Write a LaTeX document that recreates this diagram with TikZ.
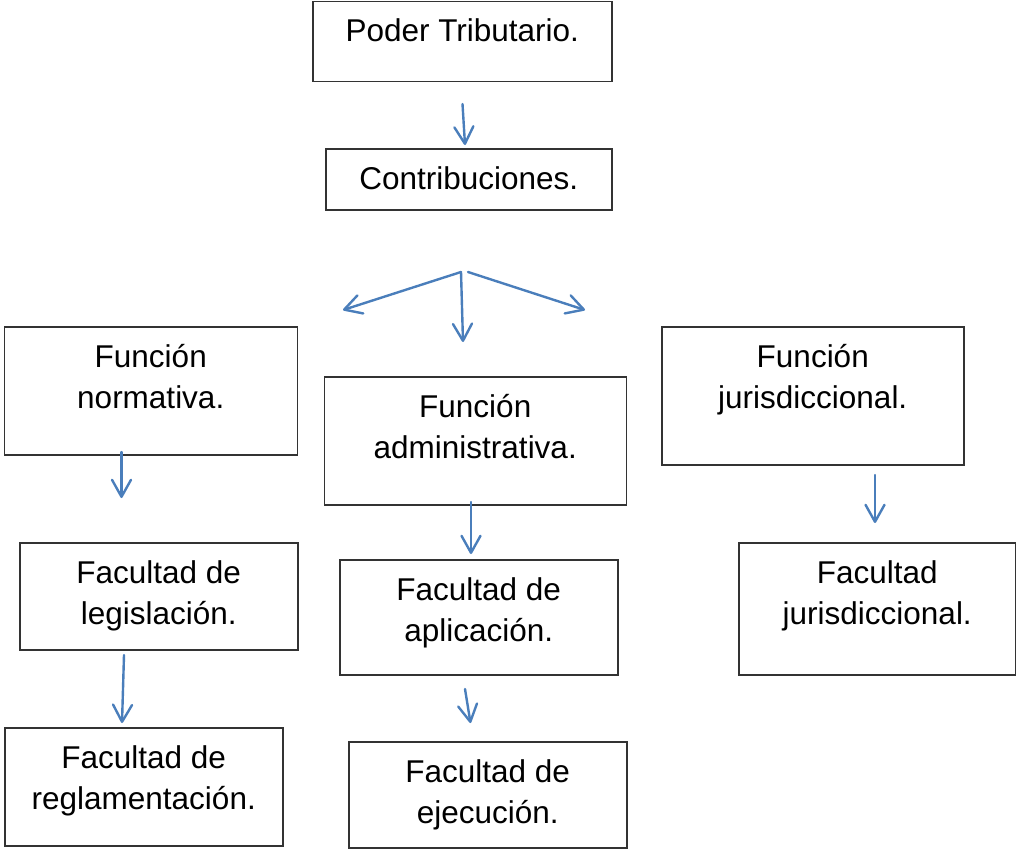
\documentclass[tikz,border=0pt]{standalone}
\usepackage{fontspec}
\setmainfont{Liberation Sans}
\usetikzlibrary{arrows.meta}
\definecolor{azul}{RGB}{74,126,187}
\tikzset{
	caja/.style={draw=black!80, line width=1.5pt, anchor=north west, inner sep=0pt},
	texto/.style={font=\fontsize{31.5}{41.5}\selectfont, align=center, anchor=base, inner sep=0pt},
	uno/.style={texto, yshift=-41},
	dos/.style={texto, yshift=-82.5},
	flecha/.style={azul, line width=2.4pt, line cap=round, -{Straight Barb[length=17pt, width=19pt, line width=2.4pt, round]}}
}

\begin{document}
\begin{tikzpicture}[x=1pt, y=-1pt]
		\useasboundingbox (0,0) rectangle (1016,848) ;

		\node[caja, minimum width=299, minimum height=80, label={[uno]north:Poder Tributario.}] (poder) at (312,1) {} ;
		\node[caja, minimum width=286, minimum height=61, label={[uno]north:Contribuciones.}] (contrib) at (325,148) {} ;

		\node[caja, minimum width=293, minimum height=128, label={[dos]north:Función\\normativa.}] (normativa) at (3.5,326) {} ;
		\node[caja, minimum width=302, minimum height=128, label={[dos]north:Función\\administrativa.}] (admin) at (323.5,376) {} ;
		\node[caja, minimum width=302, minimum height=138, label={[dos]north:Función\\jurisdiccional.}] (jurisd) at (661,326) {} ;

		\node[caja, minimum width=278, minimum height=107, label={[dos]north:Facultad de\\legislación.}] (legis) at (19,542) {} ;
		\node[caja, minimum width=278, minimum height=115, label={[dos]north:Facultad de\\aplicación.}] (aplic) at (339,559) {} ;
		\node[caja, minimum width=277, minimum height=132, label={[dos]north:Facultad\\jurisdiccional.}] (facjur) at (738,542) {} ;

		\node[caja, minimum width=278, minimum height=118, label={[dos]north:Facultad de\\reglamentación.}] (reglam) at (4,727) {} ;
		\node[caja, minimum width=278, minimum height=106, label={[dos]north:Facultad de\\ejecución.}] (ejec) at (348,741) {} ;

		\coordinate (a1) at (462.5,104) ;
		\coordinate (a2) at (465,145) ;
		\coordinate (r0) at (461,272) ;
		\coordinate (r1) at (468,272) ;
		\coordinate (ri) at (343,310) ;
		\coordinate (rc) at (463,342) ;
		\coordinate (rd) at (585,310) ;
		\coordinate (n1) at (121.5,452) ;
		\coordinate (n2) at (121.5,498) ;
		\coordinate (d1) at (471,502) ;
		\coordinate (d2) at (471,554) ;
		\coordinate (j1) at (875,475) ;
		\coordinate (j2) at (875,523) ;
		\coordinate (l1) at (124,655) ;
		\coordinate (l2) at (122,723) ;
		\coordinate (p1) at (465,689) ;
		\coordinate (p2) at (470.5,723) ;

		\draw[flecha] (a1) -- (a2) ;
		\draw[flecha] (r0) -- (ri) ;
		\draw[flecha] (r0) -- (rc) ;
		\draw[flecha] (r1) -- (rd) ;
		\draw[flecha] (n1) -- (n2) ;
		\draw[flecha] (d1) -- (d2) ;
		\draw[flecha] (j1) -- (j2) ;
		\draw[flecha] (l1) -- (l2) ;
		\draw[flecha] (p1) -- (p2) ;
	\end{tikzpicture}
\end{document}
